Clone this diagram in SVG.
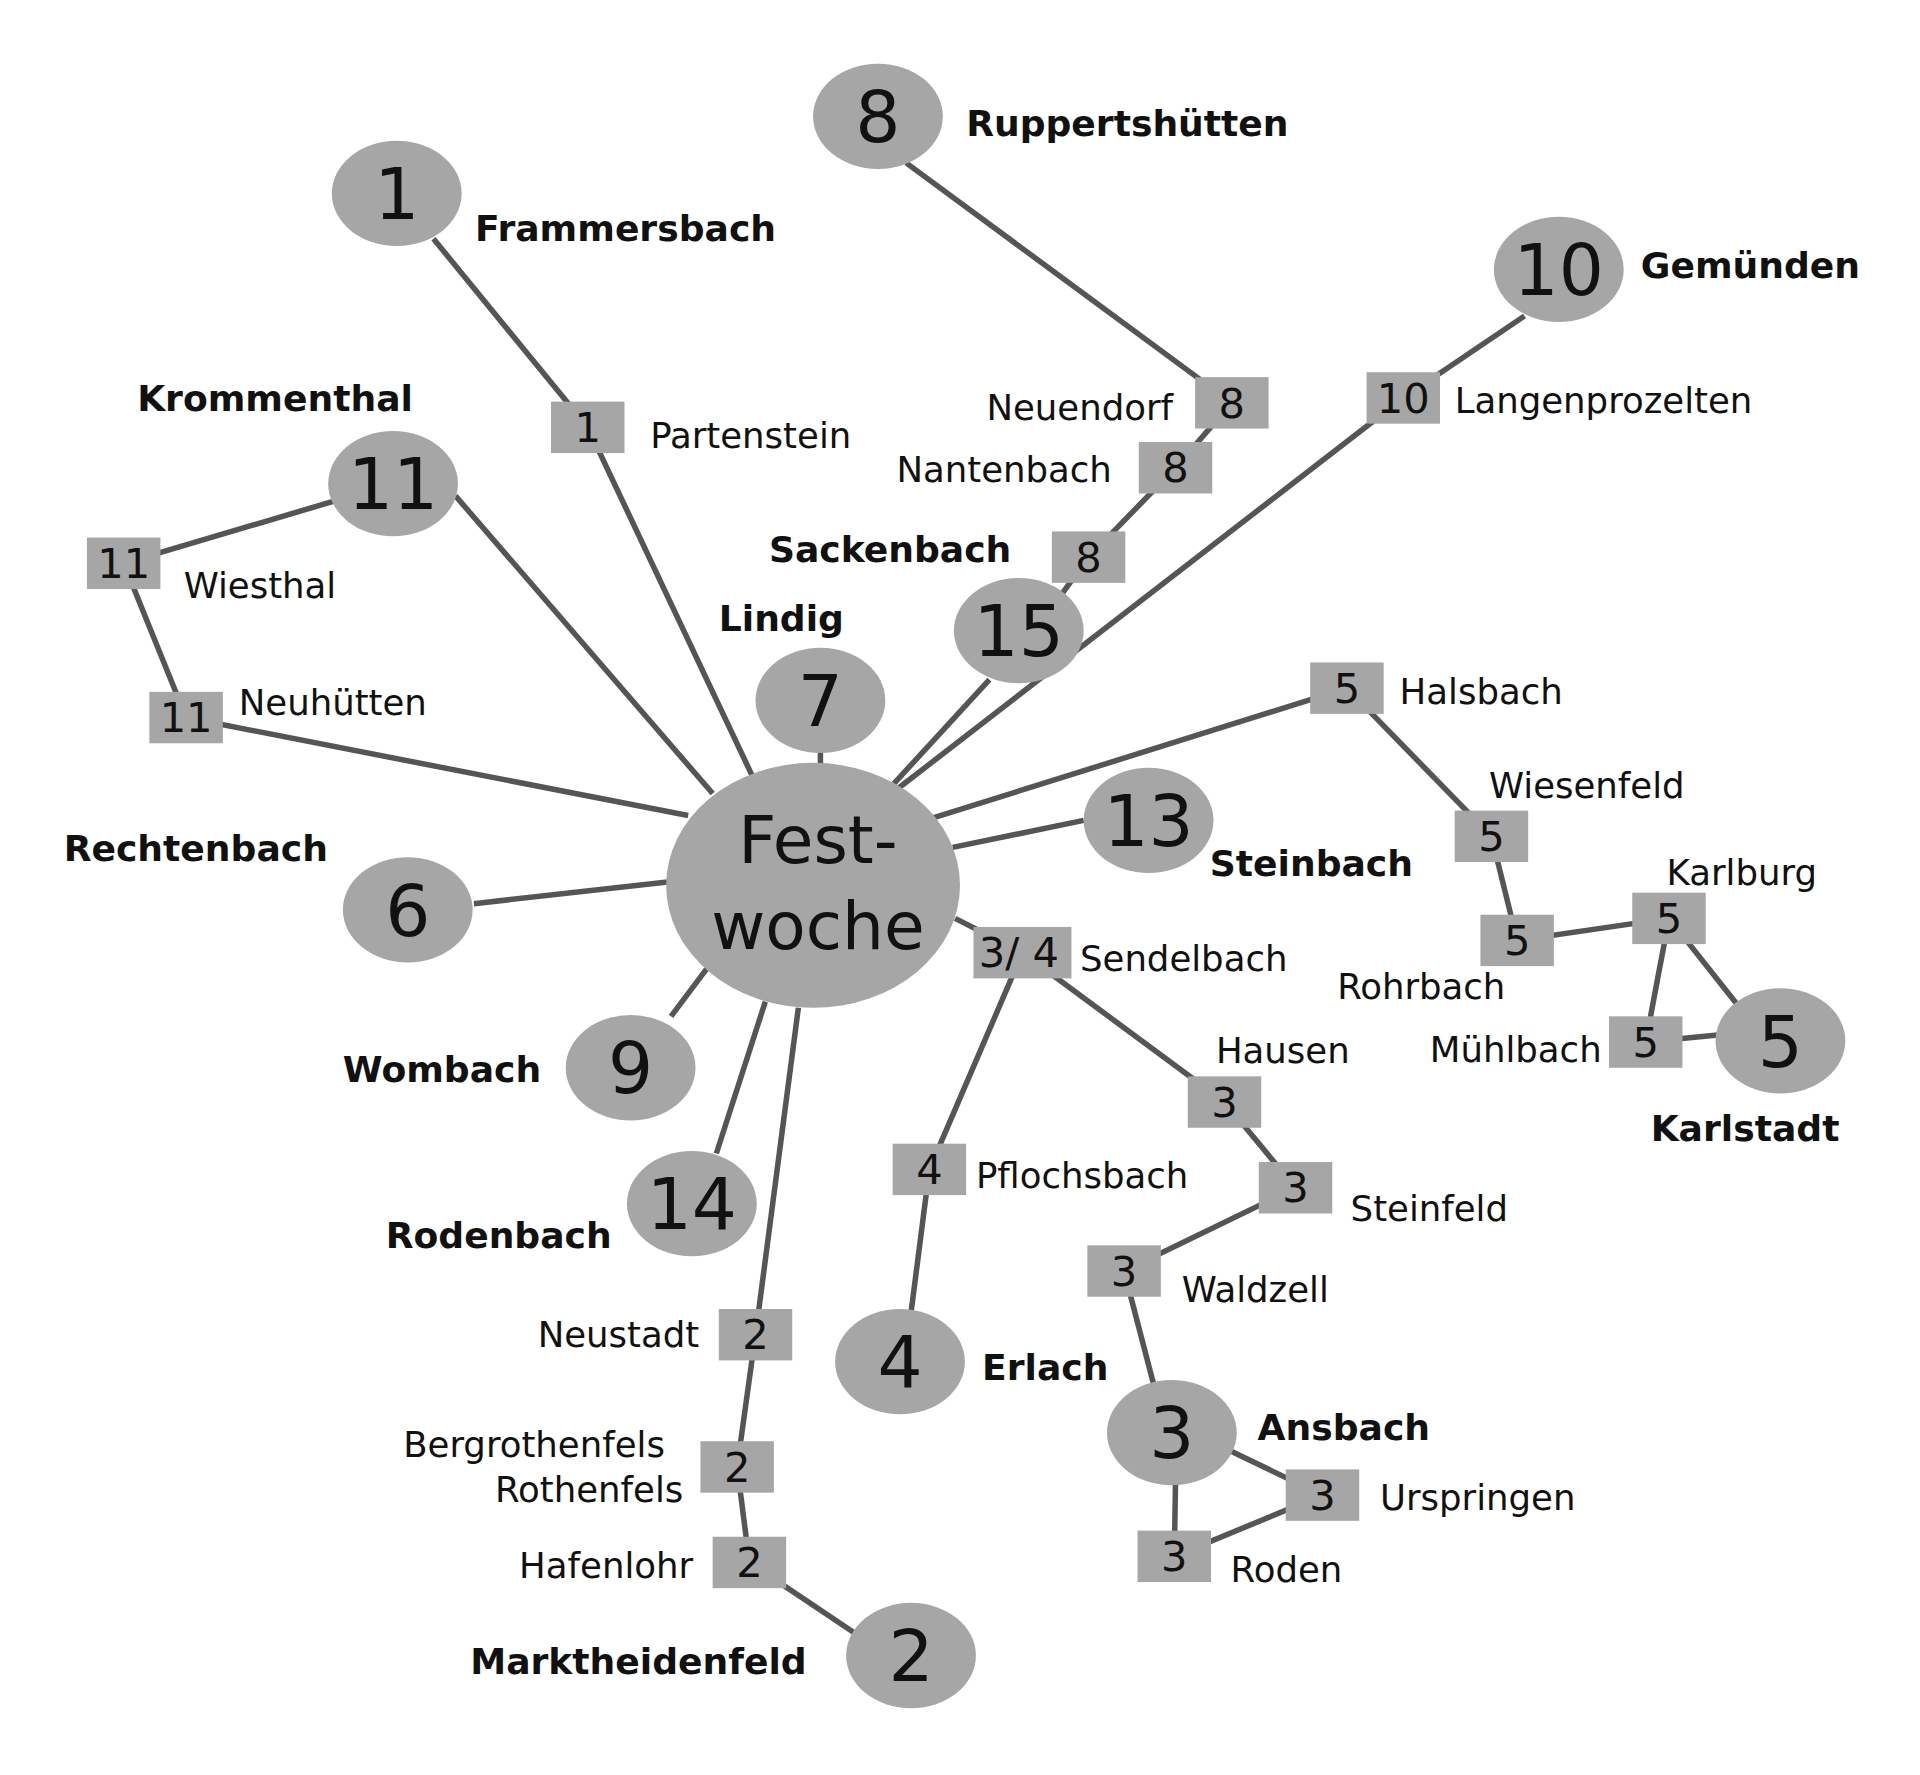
<svg xmlns="http://www.w3.org/2000/svg" width="1920" height="1775" viewBox="0 0 1920 1775">
<style>
.e{fill:#a6a6a6}
.b{fill:#a6a6a6}
.c line{stroke:#555;stroke-width:4.5}
text{font-family:"DejaVu Sans",Verdana,sans-serif;fill:#111}
.n{font-size:58px;text-anchor:middle}
.s{font-size:34px;text-anchor:middle}
.l{font-size:29px}
.bl{font-size:29.5px;font-weight:bold}
.r{text-anchor:end}
</style>
<rect width="1920" height="1775" fill="#fff"/>
<g transform="scale(1.2245)">
<g class="c">
<line x1="354" y1="195" x2="480" y2="349"/><line x1="480" y1="349" x2="615" y2="635"/>
<line x1="740" y1="133" x2="1006" y2="329"/><line x1="1006" y1="329" x2="960" y2="382"/><line x1="960" y1="382" x2="889" y2="455"/><line x1="889" y1="455" x2="860" y2="495"/>
<line x1="1245" y1="258" x2="1146" y2="325"/><line x1="1146" y1="325" x2="732" y2="645"/>
<line x1="321" y1="395" x2="101" y2="460"/><line x1="101" y1="460" x2="152" y2="586"/><line x1="152" y1="586" x2="562" y2="666"/>
<line x1="372" y1="405" x2="582" y2="648"/>
<line x1="670" y1="610" x2="670" y2="628"/>
<line x1="808" y1="555" x2="730" y2="640"/>
<line x1="1100" y1="562" x2="762" y2="668"/><line x1="1100" y1="562" x2="1218" y2="683"/><line x1="1218" y1="683" x2="1239" y2="768"/><line x1="1239" y1="768" x2="1363" y2="750"/><line x1="1363" y1="750" x2="1420" y2="822"/><line x1="1363" y1="750" x2="1344" y2="851"/><line x1="1344" y1="851" x2="1405" y2="845"/>
<line x1="885" y1="670" x2="778" y2="692"/>
<line x1="387" y1="738" x2="547" y2="720"/>
<line x1="835" y1="778" x2="780" y2="750"/>
<line x1="548" y1="830" x2="578" y2="790"/>
<line x1="585" y1="942" x2="625" y2="818"/>
<line x1="617" y1="1090" x2="652" y2="823"/><line x1="617" y1="1090" x2="602" y2="1198"/><line x1="602" y1="1198" x2="612" y2="1276"/><line x1="612" y1="1276" x2="697" y2="1333"/>
<line x1="835" y1="778" x2="759" y2="955"/><line x1="759" y1="955" x2="744" y2="1072"/>
<line x1="835" y1="778" x2="1000" y2="900"/><line x1="1000" y1="900" x2="1058" y2="970"/><line x1="1058" y1="970" x2="918" y2="1038"/><line x1="918" y1="1038" x2="942" y2="1130"/>
<line x1="1005" y1="1185" x2="1080" y2="1221"/><line x1="960" y1="1210" x2="959" y2="1271"/><line x1="959" y1="1271" x2="1080" y2="1221"/>
</g>
<g id="fest"><ellipse class="e" cx="664" cy="723" rx="120" ry="100"/><text x="668" y="705" font-size="54" text-anchor="middle">Fest-</text><text x="668" y="775" font-size="54" text-anchor="middle">woche</text></g>
<g id="n1"><ellipse class="e" cx="324" cy="158" rx="53" ry="43"/><text class="n" x="324" y="179">1</text><text class="bl" x="388" y="197">Frammersbach</text></g>
<g id="n8"><ellipse class="e" cx="717" cy="95" rx="53" ry="43"/><text class="n" x="717" y="116">8</text><text class="bl" x="789" y="111">Ruppertshütten</text></g>
<g id="n10"><ellipse class="e" cx="1273" cy="220" rx="53" ry="43"/><text class="n" x="1273" y="241">10</text><text class="bl" x="1340" y="227">Gemünden</text></g>
<g id="n11"><ellipse class="e" cx="321" cy="395" rx="53" ry="43"/><text class="n" x="321" y="416">11</text><text class="bl" x="112" y="336">Krommenthal</text></g>
<g id="n7"><ellipse class="e" cx="670" cy="572" rx="53" ry="43"/><text class="n" x="670" y="593">7</text><text class="bl" x="587" y="515">Lindig</text></g>
<g id="n15"><ellipse class="e" cx="832" cy="515" rx="53" ry="43"/><text class="n" x="832" y="536">15</text><text class="bl" x="628" y="459">Sackenbach</text></g>
<g id="n13"><ellipse class="e" cx="938" cy="670" rx="53" ry="43"/><text class="n" x="938" y="691">13</text><text class="bl" x="988" y="715">Steinbach</text></g>
<g id="n6"><ellipse class="e" cx="333" cy="743" rx="53" ry="43"/><text class="n" x="333" y="764">6</text><text class="bl" x="52" y="703">Rechtenbach</text></g>
<g id="n9"><ellipse class="e" cx="515" cy="872" rx="53" ry="43"/><text class="n" x="515" y="893">9</text><text class="bl" x="280" y="884">Wombach</text></g>
<g id="n14"><ellipse class="e" cx="565" cy="983" rx="53" ry="43"/><text class="n" x="565" y="1004">14</text><text class="bl" x="315" y="1019">Rodenbach</text></g>
<g id="n4"><ellipse class="e" cx="735" cy="1112" rx="53" ry="43"/><text class="n" x="735" y="1133">4</text><text class="bl" x="802" y="1127">Erlach</text></g>
<g id="n3"><ellipse class="e" cx="957" cy="1170" rx="53" ry="43"/><text class="n" x="957" y="1191">3</text><text class="bl" x="1027" y="1176">Ansbach</text></g>
<g id="n2"><ellipse class="e" cx="744" cy="1352" rx="53" ry="43"/><text class="n" x="744" y="1373">2</text><text class="bl" x="384" y="1367">Marktheidenfeld</text></g>
<g id="n5"><ellipse class="e" cx="1454" cy="850" rx="53" ry="43"/><text class="n" x="1454" y="871">5</text><text class="bl" x="1348" y="932">Karlstadt</text></g>
<g id="b1"><rect class="b" x="450" y="328" width="60" height="42"/><text class="s" x="480" y="361">1</text><text class="l" x="531" y="366">Partenstein</text></g>
<g id="b8a"><rect class="b" x="976" y="308" width="60" height="42"/><text class="s" x="1006" y="341">8</text><text class="l r" x="958" y="343">Neuendorf</text></g>
<g id="b8b"><rect class="b" x="930" y="361" width="60" height="42"/><text class="s" x="960" y="394">8</text><text class="l r" x="908" y="394">Nantenbach</text></g>
<g id="b8c"><rect class="b" x="859" y="434" width="60" height="42"/><text class="s" x="889" y="467">8</text></g>
<g id="b10"><rect class="b" x="1116" y="304" width="60" height="42"/><text class="s" x="1146" y="337">10</text><text class="l" x="1188" y="337">Langenprozelten</text></g>
<g id="b11a"><rect class="b" x="71" y="439" width="60" height="42"/><text class="s" x="101" y="472">11</text><text class="l" x="150" y="488">Wiesthal</text></g>
<g id="b11b"><rect class="b" x="122" y="565" width="60" height="42"/><text class="s" x="152" y="598">11</text><text class="l" x="195" y="584">Neuhütten</text></g>
<g id="b5a"><rect class="b" x="1070" y="541" width="60" height="42"/><text class="s" x="1100" y="574">5</text><text class="l" x="1143" y="575">Halsbach</text></g>
<g id="b5b"><rect class="b" x="1188" y="662" width="60" height="42"/><text class="s" x="1218" y="695">5</text><text class="l" x="1216" y="652">Wiesenfeld</text></g>
<g id="b5c"><rect class="b" x="1209" y="747" width="60" height="42"/><text class="s" x="1239" y="780">5</text><text class="l" x="1092" y="816">Rohrbach</text></g>
<g id="b5d"><rect class="b" x="1333" y="729" width="60" height="42"/><text class="s" x="1363" y="762">5</text><text class="l" x="1361" y="723">Karlburg</text></g>
<g id="b5e"><rect class="b" x="1314" y="830" width="60" height="42"/><text class="s" x="1344" y="863">5</text><text class="l r" x="1308" y="867">Mühlbach</text></g>
<g id="b34"><rect class="b" x="795" y="757" width="80" height="42"/><text class="s" x="832" y="790">3/ 4</text><text class="l" x="882" y="793">Sendelbach</text></g>
<g id="b3a"><rect class="b" x="970" y="879" width="60" height="42"/><text class="s" x="1000" y="912">3</text><text class="l" x="993" y="868">Hausen</text></g>
<g id="b3b"><rect class="b" x="1028" y="949" width="60" height="42"/><text class="s" x="1058" y="982">3</text><text class="l" x="1103" y="997">Steinfeld</text></g>
<g id="b3c"><rect class="b" x="888" y="1017" width="60" height="42"/><text class="s" x="918" y="1050">3</text><text class="l" x="965" y="1063">Waldzell</text></g>
<g id="b4"><rect class="b" x="729" y="934" width="60" height="42"/><text class="s" x="759" y="967">4</text><text class="l" x="797" y="970">Pflochsbach</text></g>
<g id="b3d"><rect class="b" x="1050" y="1200" width="60" height="42"/><text class="s" x="1080" y="1233">3</text><text class="l" x="1127" y="1233">Urspringen</text></g>
<g id="b3e"><rect class="b" x="929" y="1250" width="60" height="42"/><text class="s" x="959" y="1283">3</text><text class="l" x="1005" y="1292">Roden</text></g>
<g id="b2a"><rect class="b" x="587" y="1069" width="60" height="42"/><text class="s" x="617" y="1102">2</text><text class="l r" x="571" y="1100">Neustadt</text></g>
<g id="b2b"><rect class="b" x="572" y="1177" width="60" height="42"/><text class="s" x="602" y="1210">2</text><text class="l r" x="543" y="1190">Bergrothenfels</text><text class="l r" x="558" y="1227">Rothenfels</text></g>
<g id="b2c"><rect class="b" x="582" y="1255" width="60" height="42"/><text class="s" x="612" y="1288">2</text><text class="l r" x="566" y="1289">Hafenlohr</text></g>
</g>
</svg>
